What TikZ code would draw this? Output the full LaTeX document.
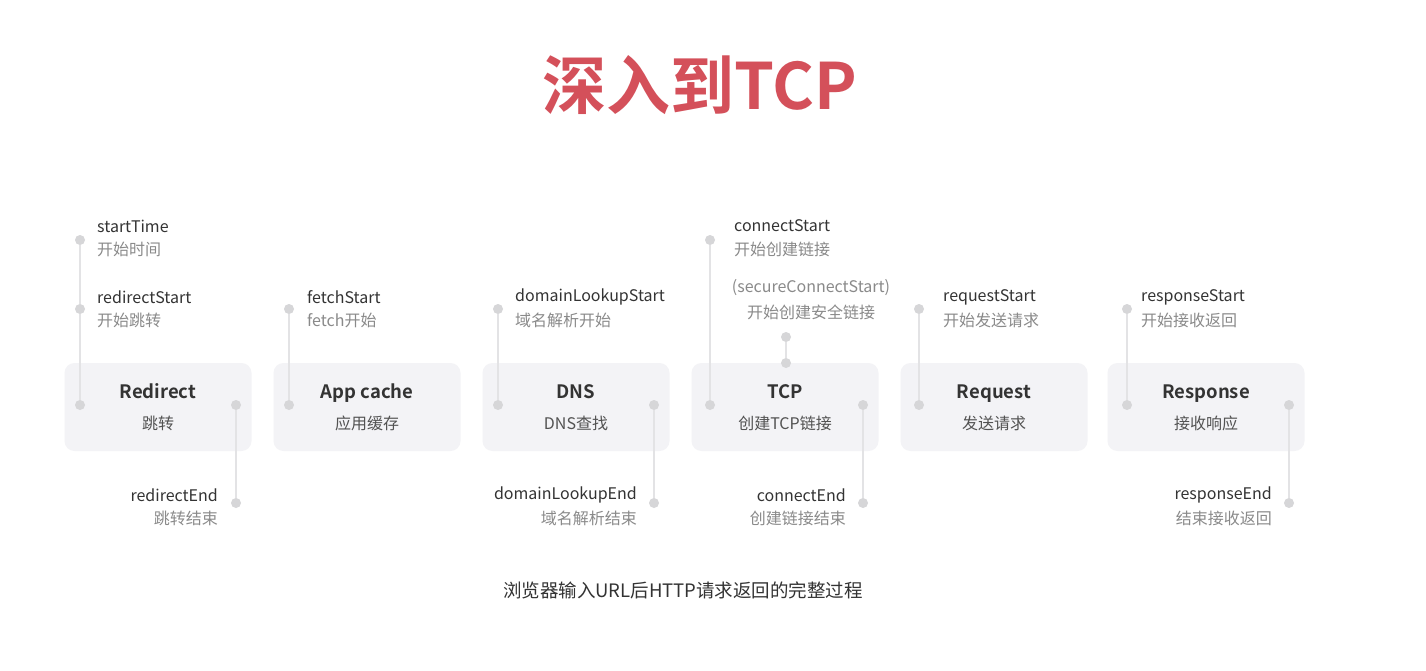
\documentclass[tikz,border=0pt]{standalone}
\usepackage{fontspec}
\setmainfont{Noto Sans CJK SC}[BoldFont={Noto Sans CJK SC Bold}]
\usetikzlibrary{positioning}
\definecolor{boxgray}{HTML}{F3F3F6}
\definecolor{dotgray}{HTML}{D6D6D8}
\definecolor{linegray}{HTML}{E3E3E5}
\definecolor{titlered}{HTML}{D4505A}
\definecolor{textdark}{HTML}{333333}
\definecolor{textsoft}{HTML}{8A8A8A}

\begin{document}
\begin{tikzpicture}[x=1pt, y=-1pt,
  stage/.style={fill=boxgray, rounded corners=10pt, minimum width=187pt, minimum height=88pt, inner sep=0pt},
  stagetitle/.style={font=\fontsize{18.5}{20}\selectfont\bfseries, text=textdark, inner sep=0pt, anchor=base},
  stagesub/.style={font=\fontsize{16}{18}\selectfont, text=textdark!85, inner sep=0pt},
  dot/.style={circle, fill=dotgray, minimum size=10pt, inner sep=0pt},
  tick/.style={draw=linegray, line width=2pt},
  evt/.style={font=\fontsize{16}{18}\selectfont, text=textdark, inner sep=0pt},
  evtcn/.style={font=\fontsize{16}{18}\selectfont, text=textsoft, inner sep=0pt}
]
\useasboundingbox[fill=white] (0,0) rectangle (1426,671);

\node[font=\fontsize{64}{70}\selectfont\bfseries, text=titlered] (title) at (700,85) {深入到TCP};

% stages
\node[stage] (redirect) at (158,407) {};
\node[stage] (appcache) at (367,407) {};
\node[stage] (dns) at (576,407) {};
\node[stage] (tcp) at (785,407) {};
\node[stage] (request) at (994,407) {};
\node[stage, minimum width=197pt] (response) at (1206,407) {};

\node[stagetitle] at ([yshift=9pt]redirect.center) {Redirect};
\node[stagesub] at ([yshift=-16pt]redirect.center) {跳转};
\node[stagetitle] at ([yshift=9pt]appcache.center) {App cache};
\node[stagesub] at ([yshift=-16pt]appcache.center) {应用缓存};
\node[stagetitle] at ([yshift=9pt]dns.center) {DNS};
\node[stagesub] at ([yshift=-16pt]dns.center) {DNS查找};
\node[stagetitle] at ([yshift=9pt]tcp.center) {TCP};
\node[stagesub] at ([yshift=-16pt]tcp.center) {创建TCP链接};
\node[stagetitle] at ([yshift=9pt]request.center) {Request};
\node[stagesub] at ([yshift=-16pt]request.center) {发送请求};
\node[stagetitle] at ([yshift=9pt]response.center) {Response};
\node[stagesub] at ([yshift=-16pt]response.center) {接收响应};

% timing dots
\node[dot] (startTime) at (80,240) {};
\node[dot] (redirectStart) at (80,309) {};
\node[dot] (redirectIn) at (80,405) {};
\node[dot] (redirectOut) at (236,405) {};
\node[dot] (redirectEnd) at (236,503) {};
\node[dot] (fetchStart) at (289,309) {};
\node[dot] (fetchIn) at (289,405) {};
\node[dot] (lookupStart) at (498,309) {};
\node[dot] (lookupIn) at (498,405) {};
\node[dot] (lookupOut) at (654,405) {};
\node[dot] (lookupEnd) at (654,503) {};
\node[dot] (connectStart) at (710,240) {};
\node[dot] (connectIn) at (710,405) {};
\node[dot] (secureStart) at (786,337) {};
\node[dot] (secureIn) at (786,363) {};
\node[dot] (connectOut) at (863,405) {};
\node[dot] (connectEnd) at (863,503) {};
\node[dot] (requestStart) at (919,309) {};
\node[dot] (requestIn) at (919,405) {};
\node[dot] (responseStart) at (1127,309) {};
\node[dot] (responseIn) at (1127,405) {};
\node[dot] (responseOut) at (1289,405) {};
\node[dot] (responseEnd) at (1289,503) {};

\draw[tick] (startTime) -- (redirectStart) -- (redirectIn);
\draw[tick] (redirectOut) -- (redirectEnd);
\draw[tick] (fetchStart) -- (fetchIn);
\draw[tick] (lookupStart) -- (lookupIn);
\draw[tick] (lookupOut) -- (lookupEnd);
\draw[tick] (connectStart) -- (connectIn);
\draw[tick] (secureStart) -- (secureIn);
\draw[tick] (connectOut) -- (connectEnd);
\draw[tick] (requestStart) -- (requestIn);
\draw[tick] (responseStart) -- (responseIn);
\draw[tick] (responseOut) -- (responseEnd);

% start labels
\node[evt, anchor=west] at (97,226) {startTime};
\node[evtcn, anchor=west] at (97,249) {开始时间};
\node[evt, anchor=west] at (97,297) {redirectStart};
\node[evtcn, anchor=west] at (97,320) {开始跳转};
\node[evt, anchor=west] at (307,297) {fetchStart};
\node[evtcn, anchor=west] at (307,320) {fetch开始};
\node[evt, anchor=west] at (515,297) {domainLookupStart};
\node[evtcn, anchor=west] at (515,320) {域名解析开始};
\node[evt, anchor=west] at (734,226) {connectStart};
\node[evtcn, anchor=west] at (734,249) {开始创建链接};
\node[evtcn] at (811,288) {(secureConnectStart)};
\node[evtcn] at (811,312) {开始创建安全链接};
\node[evt, anchor=west] at (943,297) {requestStart};
\node[evtcn, anchor=west] at (943,320) {开始发送请求};
\node[evt, anchor=west] at (1141,297) {responseStart};
\node[evtcn, anchor=west] at (1141,320) {开始接收返回};

% end labels
\node[evt, anchor=east] at (218,495) {redirectEnd};
\node[evtcn, anchor=east] at (218,518) {跳转结束};
\node[evt, anchor=east] at (637,495) {domainLookupEnd};
\node[evtcn, anchor=east] at (637,518) {域名解析结束};
\node[evt, anchor=east] at (846,495) {connectEnd};
\node[evtcn, anchor=east] at (846,518) {创建链接结束};
\node[evt, anchor=east] at (1272,495) {responseEnd};
\node[evtcn, anchor=east] at (1272,518) {结束接收返回};

\node[font=\fontsize{18.5}{20}\selectfont, text=textdark] (caption) at (683,590) {浏览器输入URL后HTTP请求返回的完整过程};

\end{tikzpicture}
\end{document}
